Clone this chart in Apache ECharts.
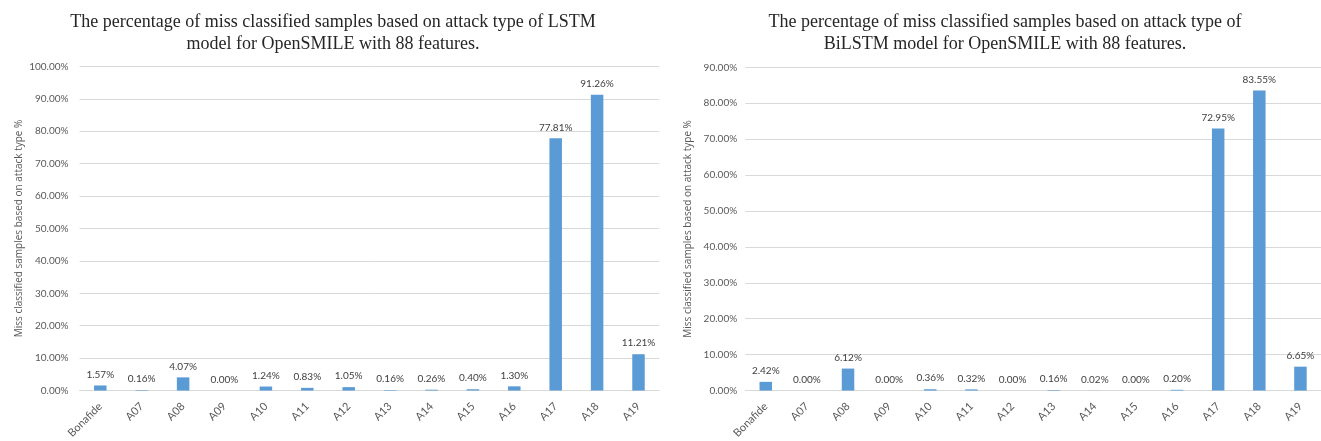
<!DOCTYPE html>
<html>
<head>
<meta charset="utf-8">
<script src="https://cdn.jsdelivr.net/npm/echarts@6/dist/echarts.min.js"></script>
<style>
  html, body { margin: 0; padding: 0; background: #ffffff; overflow: hidden; }
  #chart { width: 1321px; height: 441px; }
</style>
</head>
<body>
<div id="chart"></div>
<script>
// Attack-type categories shared by both models
const categories = ['Bonafide', 'A07', 'A08', 'A09', 'A10', 'A11', 'A12', 'A13', 'A14', 'A15', 'A16', 'A17', 'A18', 'A19'];

// Misclassification rate (%) per attack type
const lstmValues = [1.57, 0.16, 4.07, 0.00, 1.24, 0.83, 1.05, 0.16, 0.26, 0.40, 1.30, 77.81, 91.26, 11.21];
const bilstmValues = [2.42, 0.00, 6.12, 0.00, 0.36, 0.32, 0.00, 0.16, 0.02, 0.00, 0.20, 72.95, 83.55, 6.65];

const lstmTitle = 'The percentage of miss classified samples based on attack type of LSTM\nmodel for OpenSMILE with 88 features.';
const bilstmTitle = 'The percentage of miss classified samples based on attack type of\nBiLSTM model for OpenSMILE with 88 features.';
const yAxisName = 'Miss classified samples based on attack type %';

const BAR = '#5b9bd5';
const TEXT = '#595959';
const GRID = '#d9d9d9';
const FONT = 'Lato, "Open Sans", "DejaVu Sans", sans-serif';
const NAME_FONT = '"Open Sans", "DejaVu Sans", sans-serif';

const chart = echarts.init(document.getElementById('chart'), null, { renderer: 'canvas' });

function pct(v) { return Number(v).toFixed(2) + '%'; }

function xAxis(gridIndex) {
  return {
    type: 'category', gridIndex, data: categories,
    axisLine: { show: true, lineStyle: { color: GRID } },
    axisTick: { show: false },
    axisLabel: { color: TEXT, fontSize: 11, fontFamily: FONT, rotate: 45, interval: 0, margin: 14 }
  };
}

function yAxis(gridIndex, max, nameGap, labelMargin) {
  return {
    type: 'value', gridIndex, min: 0, max, interval: 10,
    name: yAxisName, nameLocation: 'middle', nameGap,
    nameTextStyle: { color: TEXT, fontSize: 10, fontFamily: NAME_FONT },
    axisLine: { show: false }, axisTick: { show: false },
    axisLabel: { color: TEXT, fontSize: 10, fontFamily: FONT, formatter: pct, margin: labelMargin },
    splitLine: { lineStyle: { color: GRID, width: 1 } }
  };
}

function barSeries(idx, data) {
  return {
    type: 'bar', xAxisIndex: idx, yAxisIndex: idx, data,
    barWidth: 12.5,
    itemStyle: { color: BAR },
    label: {
      show: true, position: 'top', distance: 6,
      color: '#404040', fontSize: 10, fontFamily: FONT,
      formatter: p => pct(p.value)
    }
  };
}

const titleStyle = { color: '#262626', fontSize: 18, fontWeight: 'normal', fontFamily: '"Liberation Serif", "DejaVu Serif", serif', lineHeight: 22 };

chart.setOption({
  animation: false,
  backgroundColor: '#ffffff',
  title: [
    { text: lstmTitle, left: 328, top: 6, textAlign: 'center', textStyle: titleStyle },
    { text: bilstmTitle, left: 1000, top: 6, textAlign: 'center', textStyle: titleStyle }
  ],
  grid: [
    { left: 79.6, right: 1321 - 659.2, top: 66.4, bottom: 43.6, containLabel: false },
    { left: 745.2, right: 1321 - 1327.8, top: 67.3, bottom: 43.7, containLabel: false }
  ],
  xAxis: [xAxis(0), xAxis(1)],
  yAxis: [yAxis(0, 100, 55, 11), yAxis(1, 90, 52, 8)],
  series: [barSeries(0, lstmValues), barSeries(1, bilstmValues)]
});
</script>
</body>
</html>
